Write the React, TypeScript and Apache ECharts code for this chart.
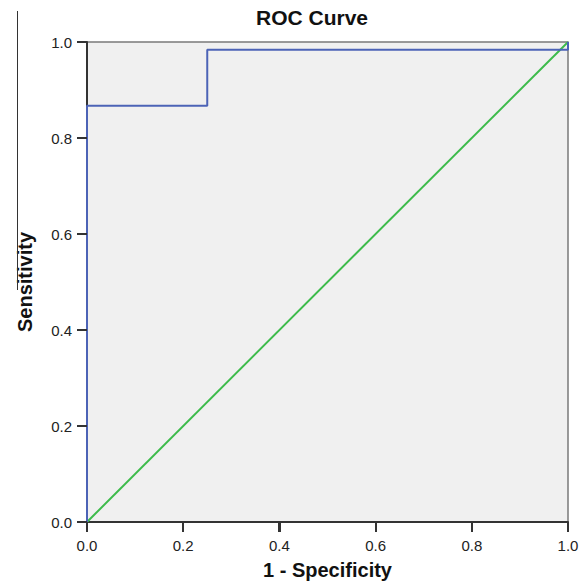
import React, { useEffect, useRef } from "react";
import * as echarts from "echarts";

const titleText = "ROC Curve";
const xAxisTitle = "1 - Specificity";
const yAxisTitle = "Sensitivity";

// Tick values shared by both axes
const tickValues = [0, 0.2, 0.4, 0.6, 0.8, 1.0];

// ROC curve points [1 - specificity, sensitivity]
const rocFpr = [0, 0, 0.25, 0.25, 1, 1];
const rocTpr = [0, 0.867, 0.867, 0.984, 0.984, 1];

// Reference diagonal
const refX = [0, 1];
const refY = [0, 1];

const FONT = "Liberation Sans";
const AXIS_COLOR = "#333";
const TICK_LEN = 10;

function makeAxis(name: string, nameGap: number, margin: number): any {
  return {
    type: "value",
    min: 0,
    max: 1,
    interval: 0.2,
    name,
    nameLocation: "middle",
    nameGap,
    nameTextStyle: { fontFamily: FONT, fontWeight: "bold", fontSize: 20, color: "#111" },
    splitLine: { show: false },
    axisLine: { show: true, lineStyle: { color: AXIS_COLOR, width: 2 } },
    axisTick: { show: true, interval: 0, length: TICK_LEN, lineStyle: { color: AXIS_COLOR, width: 2 } },
    axisLabel: {
      fontSize: 15,
      fontFamily: FONT,
      color: "#222",
      margin,
      formatter: (v: number) => v.toFixed(1),
    },
  };
}

export default function App() {
  const ref = useRef<HTMLDivElement>(null);

  useEffect(() => {
    document.body.style.margin = "0";
    const chart = echarts.init(ref.current!, null, { renderer: "svg" });
    const artifactLine = {
      type: "line",
      shape: { x1: 17.5, y1: 11, x2: 17.5, y2: 290 },
      style: { stroke: "#333", lineWidth: 1 },
      z: 10,
    };
    chart.setOption({
      animation: false,
      grid: {
        left: 87,
        right: 16,
        top: 42,
        bottom: 63,
        show: true,
        backgroundColor: "#f0f0f0",
        borderColor: "#7a7a7a",
        borderWidth: 1.5,
      },
      title: {
        text: titleText,
        left: 307,
        top: 2,
        textAlign: "center",
        textStyle: { fontFamily: FONT, fontWeight: "bold", fontSize: 21, color: "#111" },
      },
      graphic: [artifactLine],
      xAxis: makeAxis(xAxisTitle, 38, 16),
      yAxis: makeAxis(yAxisTitle, 52, 15),
      series: [
        {
          type: "line",
          symbol: "none",
          data: refX.map((x, i) => [x, refY[i]]),
          lineStyle: { color: "#3dbb4b", width: 2 },
        },
        {
          type: "line",
          symbol: "none",
          data: rocFpr.map((x, i) => [x, rocTpr[i]]),
          lineStyle: { color: "#4c63b6", width: 2 },
        },
      ],
    });

    // Outward tick marks, positioned through the axes' own scales
    const x0 = chart.convertToPixel({ xAxisIndex: 0 }, 0) as number;
    const y0 = chart.convertToPixel({ yAxisIndex: 0 }, 0) as number;
    const ticks: any[] = [];
    tickValues.forEach((v) => {
      const px = Math.round(chart.convertToPixel({ xAxisIndex: 0 }, v) as number);
      const py = Math.round(chart.convertToPixel({ yAxisIndex: 0 }, v) as number);
      ticks.push({
        type: "line",
        shape: { x1: px, y1: y0, x2: px, y2: y0 + TICK_LEN },
        style: { stroke: AXIS_COLOR, lineWidth: 2 },
        z: 10,
      });
      ticks.push({
        type: "line",
        shape: { x1: x0 - TICK_LEN, y1: py, x2: x0, y2: py },
        style: { stroke: AXIS_COLOR, lineWidth: 2 },
        z: 10,
      });
    });
    chart.setOption({ graphic: [artifactLine, ...ticks] });

    return () => chart.dispose();
  }, []);

  return <div ref={ref} style={{ width: 584, height: 585 }} />;
}
